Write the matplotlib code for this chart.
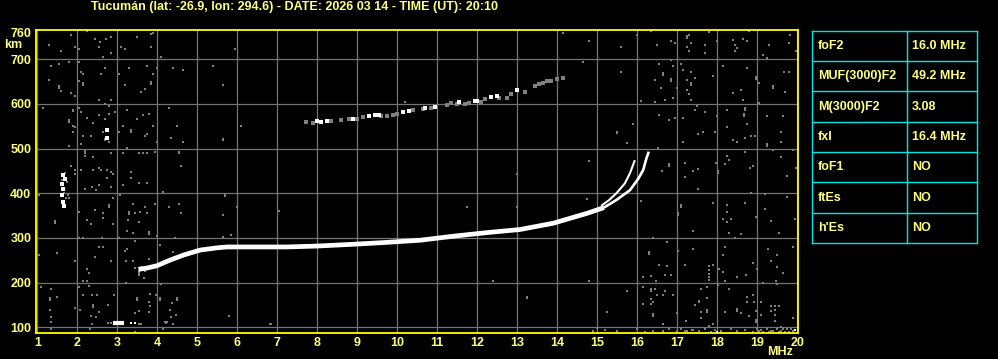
import matplotlib.pyplot as plt
import numpy as np

# Station header and table of scaled parameters
title = 'Tucumán (lat: -26.9, lon: 294.6) - DATE: 2026 03 14 - TIME (UT): 20:10'
param_names = ['foF2', 'MUF(3000)F2', 'M(3000)F2', 'fxI', 'foF1', 'ftEs', "h'Es"]
param_values = ['16.0 MHz', '49.2 MHz', '3.08', '16.4 MHz', 'NO', 'NO', 'NO']

# Axis ticks
freq_ticks = list(range(1, 21))
height_ticks = [100, 200, 300, 400, 500, 600, 700, 760]
grid_heights = [100, 200, 300, 400, 500, 600, 700]

# F2 echo trace (MHz, km)
trace_f = [3.53, 3.75, 3.99, 4.33, 4.66, 5.07, 5.49, 5.74, 6.5, 7.24, 8.0, 8.9,
           9.7, 10.57, 11.4, 12.24, 13.07, 13.9, 14.74, 15.17]
trace_h = [230, 233, 238, 251, 262, 273, 278, 280, 280, 280, 282, 286,
           290, 295, 304, 312, 319, 333, 355, 368]
# upper end of the trace, x mode
tail_f = [15.17, 15.48, 15.82, 16.03, 16.15, 16.23, 16.29]
tail_h = [368, 385, 407, 433, 452, 478, 493]
# o mode branch
branch_f = [15.1, 15.3, 15.48, 15.69, 15.82, 15.94]
branch_h = [372, 385, 400, 422, 445, 474]

# second hop echoes
hop2_white_f = [8.0, 8.1, 8.25, 8.9, 9.3, 9.45, 9.55, 10.15, 10.3, 10.7, 10.95,
                11.55, 11.95, 12.0, 12.35, 12.5, 13.0]
hop2_white_h = [561, 560, 562, 566, 573, 574, 576, 582, 584, 590, 592,
                604, 606, 607, 616, 617, 630]
hop2_gray_f = [7.73, 7.9, 8.35, 8.6, 8.8, 9.0, 9.15, 9.6, 9.75, 9.9, 10.0, 10.4,
               10.65, 10.85, 11.25, 11.35, 11.5, 11.7, 11.8, 12.1, 12.2, 12.55,
               12.75, 12.85, 13.2, 13.45, 13.55, 13.65, 13.75, 13.85, 14.0, 14.15]
hop2_gray_h = [560, 558, 561, 563, 565, 566, 570, 572, 573, 574, 578, 586,
               588, 590, 597, 601, 600, 599, 602, 604, 610, 612,
               614, 622, 626, 640, 645, 646, 650, 652, 656, 658]

# low echo near 110 km
low_f = [2.9, 3.16]
low_h = [110, 110]
low_gray_f = [2.78, 2.85, 3.55, 3.6]
low_gray_h = [111, 111, 108, 108]
low_dot_f = [3.35, 3.45]
low_dot_h = [111, 111]

# spread echo near 1.65 MHz
blob_f = [1.65, 1.7, 1.63, 1.65, 1.63, 1.64, 1.66, 2.75, 2.75]
blob_h = [440, 432, 420, 410, 395, 380, 372, 541, 524]
blob_gray_f = [1.75, 1.72, 1.68, 1.7, 1.62]
blob_gray_h = [425, 390, 400, 445, 430]

# scattered noise (MHz, km)
noise_left_upper = np.array([
    [1.85, 754], [2.25, 763], [2.45, 745], [2.58, 737], [2.71, 745], [2.85, 750], [1.3, 731],
    [1.6, 719], [1.94, 728], [2.04, 723], [2.55, 728], [2.85, 714], [2.65, 705], [3.1, 728],
    [3.2, 723], [3.5, 750], [3.85, 755], [3.9, 759], [3.85, 728], [4.1, 705], [1.35, 685],
    [1.55, 690], [1.8, 693], [2.05, 694], [2.7, 681], [2.6, 667], [2.1, 672], [2.15, 667],
    [2.15, 647], [2.15, 643], [2.05, 650], [1.3, 654], [1.55, 640], [1.55, 636], [1.6, 629],
    [1.85, 623], [1.95, 618], [3.05, 667], [3.3, 681], [3.75, 685], [3.9, 667], [4.0, 681],
    [3.85, 649], [3.85, 645], [3.2, 641], [3.6, 627], [3.7, 632], [4.4, 681], [4.65, 676],
    [5.4, 685], [5.65, 641], [2.55, 609], [2.7, 600], [2.85, 609], [2.8, 594], [2.95, 582],
    [1.15, 591], [1.9, 587], [1.9, 583], [2.05, 591], [2.1, 582], [1.8, 564], [1.8, 560],
    [1.9, 551], [1.95, 547], [1.9, 538], [2.25, 569], [2.4, 556], [2.55, 574], [2.7, 565],
    [2.8, 578], [2.65, 538], [2.35, 529], [2.15, 529], [2.1, 511], [1.8, 506], [2.7, 522],
    [2.7, 518], [2.8, 515], [3.25, 587], [3.5, 565], [3.65, 574], [3.8, 578], [3.15, 551],
    [3.35, 542], [3.35, 538], [3.05, 538], [3.7, 529], [3.9, 551], [3.75, 533], [4.3, 591],
    [4.5, 551], [4.35, 524], [4.65, 515], [5.65, 520], [4.0, 515], [2.2, 495], [2.2, 489],
    [2.2, 484], [2.4, 480], [1.85, 462], [1.95, 453], [1.95, 444], [2.1, 453], [2.4, 453],
    [2.55, 457], [2.6, 453], [2.75, 453], [2.85, 448], [2.9, 444], [2.85, 489], [2.75, 435],
    [3.15, 489], [3.25, 502], [3.35, 448], [3.35, 435], [3.55, 489], [3.65, 489], [3.75, 489],
    [3.95, 493], [4.55, 493], [4.55, 489], [4.6, 462]])

noise_left_lower = np.array([
    [2.19, 410], [2.38, 413], [2.54, 418], [2.48, 407], [2.85, 415], [3.15, 418], [3.55, 424],
    [3.75, 424], [1.04, 395], [1.77, 396], [1.79, 389], [2.9, 389], [3.08, 395], [4.15, 402],
    [2.79, 374], [2.79, 370], [2.44, 363], [2.04, 359], [2.65, 355], [2.65, 345], [2.25, 340],
    [2.34, 331], [1.44, 338], [1.44, 334], [3.4, 377], [3.7, 370], [3.95, 377], [3.3, 357],
    [3.3, 353], [3.45, 355], [3.58, 357], [3.75, 355], [3.27, 340], [3.55, 336], [2.9, 331],
    [4.29, 370], [4.54, 377], [4.6, 355], [5.65, 351], [5.65, 303], [3.25, 316], [3.4, 312],
    [3.79, 314], [3.79, 310], [2.15, 301], [2.04, 301], [2.62, 301], [3.04, 299], [3.44, 294],
    [4.0, 304], [4.08, 284], [4.44, 301], [4.4, 269], [1.5, 267], [1.04, 262], [1.94, 249],
    [2.44, 258], [2.54, 281], [2.64, 281], [2.85, 249], [3.19, 272], [3.25, 276], [3.4, 249],
    [3.21, 249], [3.54, 226], [3.54, 222], [3.54, 218], [3.69, 227], [3.67, 210], [3.79, 252],
    [2.25, 231], [2.29, 221], [2.15, 205], [2.25, 205], [3.23, 200], [4.1, 197], [1.1, 191],
    [1.35, 186], [1.5, 169], [2.04, 191], [2.29, 193], [2.15, 172], [1.32, 165], [1.32, 162],
    [1.32, 140], [1.35, 123], [1.35, 113], [1.35, 96], [2.38, 172], [2.5, 172], [2.4, 150],
    [2.4, 146], [2.54, 135], [2.35, 126], [2.46, 123], [2.38, 108], [2.08, 139], [1.94, 144],
    [2.77, 150], [2.92, 172], [3.83, 175], [3.98, 172], [3.5, 165], [3.5, 162], [3.79, 158],
    [3.83, 148], [3.54, 137], [3.44, 133], [3.79, 135], [4.08, 165], [4.08, 162], [4.5, 165],
    [4.5, 162], [4.38, 155], [4.33, 140], [4.48, 128], [4.35, 123], [4.2, 113], [4.25, 113],
    [4.23, 110], [4.4, 108], [4.15, 96], [3.44, 91], [2.32, 96], [3.45, 232], [3.6, 236]])

noise_mid = np.array([
    [5.94, 723], [5.65, 641], [6.09, 550], [5.64, 521], [5.69, 397], [5.69, 393], [5.99, 370],
    [7.05, 361], [5.64, 352], [5.85, 307], [5.8, 126], [6.85, 108], [10.2, 605], [14.15, 759],
    [14.8, 741], [14.65, 694], [15.49, 538], [15.49, 534], [14.8, 471], [12.99, 443],
    [11.74, 370], [12.99, 370], [14.74, 387], [12.4, 205], [13.24, 169], [13.24, 165],
    [14.8, 205], [15.24, 135], [14.99, 98], [4.09, 705], [5.79, 126], [6.83, 108]])

noise_right_upper = np.array([
    [15.99, 754], [16.34, 763], [15.6, 728], [16.49, 731], [16.85, 740], [16.95, 735],
    [17.25, 752], [17.25, 748], [17.3, 754], [17.25, 728], [17.35, 735], [17.3, 718],
    [17.7, 731], [17.7, 714], [17.8, 761], [17.99, 740], [18.4, 743], [18.45, 731],
    [18.45, 719], [18.49, 724], [18.64, 745], [18.74, 740], [18.8, 763], [19.14, 709],
    [19.29, 731], [19.82, 754], [19.8, 735], [19.97, 719], [19.24, 702], [15.6, 672],
    [16.55, 689], [16.85, 698], [16.9, 685], [17.1, 689], [17.15, 676], [16.64, 668],
    [16.64, 664], [16.45, 653], [16.85, 655], [16.85, 651], [17.25, 653], [17.35, 670],
    [17.45, 658], [17.34, 646], [17.34, 642], [16.59, 636], [16.99, 636], [17.25, 631],
    [17.3, 621], [17.35, 609], [16.7, 609], [16.9, 614], [17.89, 663], [18.14, 685],
    [18.74, 681], [18.96, 660], [18.96, 656], [19.04, 647], [19.39, 640], [19.39, 636],
    [19.67, 670], [19.8, 672], [19.7, 627], [18.59, 631], [18.39, 623], [18.64, 609],
    [16.1, 606], [16.45, 605], [19.04, 601], [15.49, 536], [15.74, 513], [15.89, 555],
    [16.55, 575], [16.8, 564], [16.95, 569], [17.14, 569], [17.45, 586], [17.5, 595],
    [17.7, 582], [17.99, 573], [18.24, 586], [18.7, 590], [18.7, 586], [18.67, 577],
    [18.67, 573], [18.74, 555], [18.25, 547], [17.64, 536], [17.53, 533], [17.94, 538],
    [17.14, 515], [18.39, 519], [18.5, 515], [18.7, 524], [18.84, 528], [18.95, 528],
    [19.24, 510], [19.24, 506], [19.24, 573], [19.64, 573], [19.59, 538], [19.59, 515],
    [19.39, 497], [19.89, 497], [16.53, 502], [18.24, 483], [18.3, 474], [18.2, 465],
    [17.97, 468], [18.02, 450], [18.02, 446], [18.7, 493], [18.89, 461], [18.82, 457],
    [19.59, 480], [19.74, 439], [19.97, 457], [16.8, 465], [16.8, 461], [16.61, 450],
    [17.4, 450], [17.53, 454], [17.2, 437], [17.2, 467]])

noise_right_lower = np.array([
    [17.53, 410], [19.2, 398], [19.74, 392], [18.84, 400], [16.09, 383], [17.09, 373],
    [17.09, 369], [17.03, 355], [17.03, 351], [17.89, 379], [18.24, 374], [18.24, 357],
    [18.15, 342], [18.24, 335], [18.34, 342], [18.7, 379], [18.97, 348], [19.34, 339],
    [19.2, 365], [19.94, 342], [17.39, 316], [18.3, 312], [18.45, 301], [18.59, 308],
    [19.55, 312], [16.39, 301], [16.74, 290], [16.3, 268], [16.3, 264], [17.03, 271],
    [17.39, 275], [18.2, 281], [18.15, 262], [18.89, 245], [18.99, 230], [19.28, 275],
    [19.49, 262], [19.34, 249], [19.49, 236], [19.64, 221], [19.89, 281], [16.55, 240],
    [16.74, 237], [17.2, 240], [17.8, 237], [17.8, 228], [17.8, 220], [17.8, 213],
    [17.8, 206], [17.9, 240], [18.05, 231], [18.14, 225], [16.34, 215], [16.47, 205],
    [16.7, 217], [16.85, 217], [16.14, 212], [18.71, 217], [18.49, 212], [18.2, 205],
    [19.14, 200], [19.49, 197], [19.47, 205], [15.74, 182], [16.14, 191], [16.34, 186],
    [16.34, 182], [16.45, 186], [16.7, 181], [16.49, 172], [16.64, 172], [16.89, 172],
    [16.34, 163], [16.39, 157], [16.34, 152], [16.39, 130], [16.39, 126], [16.14, 152],
    [17.59, 186], [17.74, 191], [18.03, 195], [18.3, 186], [17.74, 167], [17.55, 160],
    [17.55, 156], [17.45, 150], [17.74, 139], [17.74, 135], [17.59, 135], [17.59, 122],
    [17.89, 108], [17.8, 103], [18.2, 135], [18.49, 141], [18.49, 137], [18.59, 132],
    [18.8, 126], [18.74, 169], [18.74, 158], [18.89, 172], [18.92, 158], [19.09, 158],
    [18.97, 137], [18.97, 116], [18.97, 112], [19.09, 128], [19.34, 148], [19.45, 148],
    [19.45, 139], [19.34, 137], [19.45, 128], [19.55, 148], [19.89, 122], [19.45, 114],
    [19.59, 102], [16.64, 108], [16.99, 132], [17.22, 115]])

noise_floor = np.array([
    [15.5, 93], [16.0, 96], [16.4, 93], [16.65, 92], [16.8, 96], [17.0, 92], [17.1, 96],
    [17.25, 92], [17.4, 95], [17.55, 92], [17.7, 96], [17.85, 90], [17.95, 95], [18.1, 92],
    [18.35, 96], [18.5, 92], [18.7, 95], [18.9, 90], [19.0, 97], [19.05, 93], [19.15, 91],
    [19.25, 97], [19.3, 90], [19.4, 93], [19.5, 96], [19.55, 90], [19.6, 93], [19.7, 91],
    [19.75, 96], [19.8, 90], [19.9, 93], [19.1, 95], [19.35, 92], [19.65, 97], [19.85, 96],
    [17.2, 93], [17.37, 94], [16.2, 90], [15.2, 95], [14.9, 92]])
floor_white_f = [18.0, 19.95]
floor_white_h = [89, 94]

yellow = '#ffff00'
text_yellow = '#ffff80'
gray = '#808080'
grid_gray = '#747474'
cyan = '#00e6e6'

plt.rcParams['font.family'] = ['Liberation Sans', 'DejaVu Sans']
plt.rcParams['font.weight'] = 'bold'

W, H = 998, 359
fig = plt.figure(figsize=(W / 100, H / 100), dpi=100, facecolor='black')

# plot area, placed in pixels
left, right, top, bottom = 35.5, 798, 29.5, 333.3
ax = fig.add_axes([left / W, 1 - bottom / H, (right - left) / W, (bottom - top) / H])
ax.set_facecolor('black')
ax.set_xlim(0.955, 20.02)
ax.set_ylim(87, 766)

# grid
for f in freq_ticks:
    ax.axvline(f, color=grid_gray, lw=0.9, zorder=1)
for h in grid_heights:
    ax.axhline(h, color=grid_gray, lw=0.9, zorder=1)

# noise
for arr in [noise_left_upper, noise_left_lower, noise_mid, noise_right_upper,
            noise_right_lower, noise_floor]:
    ax.plot(arr[:, 0], arr[:, 1], 's', ms=1.6, mew=0, color=gray, zorder=2)
ax.plot(floor_white_f, floor_white_h, 's', ms=1.6, mew=0, color='white', zorder=3)

# echoes
ax.plot(trace_f, trace_h, color='white', lw=3.4, solid_capstyle='butt', zorder=4)
ax.plot(tail_f, tail_h, color='white', lw=1.9, solid_capstyle='butt', zorder=4)
ax.plot(branch_f, branch_h, color='white', lw=1.5, solid_capstyle='butt', zorder=4)
ax.plot(hop2_gray_f, hop2_gray_h, 's', ms=2.2, mew=0, color=gray, zorder=3)
ax.plot(hop2_white_f, hop2_white_h, 's', ms=2.4, mew=0, color='white', zorder=4)
ax.plot(low_f, low_h, color='white', lw=3.0, solid_capstyle='butt', zorder=4)
ax.plot(low_gray_f, low_gray_h, 's', ms=2.0, mew=0, color=gray, zorder=3)
ax.plot(low_dot_f, low_dot_h, 's', ms=1.8, mew=0, color='white', zorder=4)
ax.plot(blob_gray_f, blob_gray_h, 's', ms=2.0, mew=0, color=gray, zorder=3)
ax.plot(blob_f, blob_h, 's', ms=2.4, mew=0, color='white', zorder=4)

# frame and ticks
for s in ax.spines.values():
    s.set_color(yellow)
    s.set_linewidth(1.3)
ax.set_xticks(freq_ticks)
ax.set_yticks(height_ticks)
ax.tick_params(length=0, colors=text_yellow, labelsize=9, pad=3)
for lab in ax.get_xticklabels() + ax.get_yticklabels():
    lab.set_fontweight('bold')

# texts and parameter table, drawn in pixel space
over = fig.add_axes([0, 0, 1, 1], facecolor='none')
over.set_xlim(0, W)
over.set_ylim(H, 0)
over.axis('off')
over.text(294.5, 7, title, color=text_yellow, fontsize=9, fontweight='bold',
          ha='center', va='center', family=['Liberation Sans Narrow', 'Liberation Sans'])
over.text(13.5, 45, 'km', color=text_yellow, fontsize=9, fontweight='bold', ha='center', va='center')
over.text(780.5, 352, 'MHz', color=text_yellow, fontsize=9, fontweight='bold', ha='center', va='center')

t_left, t_mid, t_right = 812.3, 907.3, 977.3
row_y = [30.7 + i * 30.33 for i in range(len(param_names) + 1)]
for y in row_y:
    over.plot([t_left, t_right], [y, y], color=cyan, lw=1.0)
for x in [t_left, t_mid, t_right]:
    over.plot([x, x], [row_y[0], row_y[-1]], color=cyan, lw=1.0)
for i, (name, val) in enumerate(zip(param_names, param_values)):
    yc = (row_y[i] + row_y[i + 1]) / 2
    over.text(818, yc, name, color=text_yellow, fontsize=9, fontweight='bold', va='center')
    over.text(912, yc, val, color=text_yellow, fontsize=9, fontweight='bold', va='center')

fig.savefig('out.png', dpi=100, facecolor='black')
